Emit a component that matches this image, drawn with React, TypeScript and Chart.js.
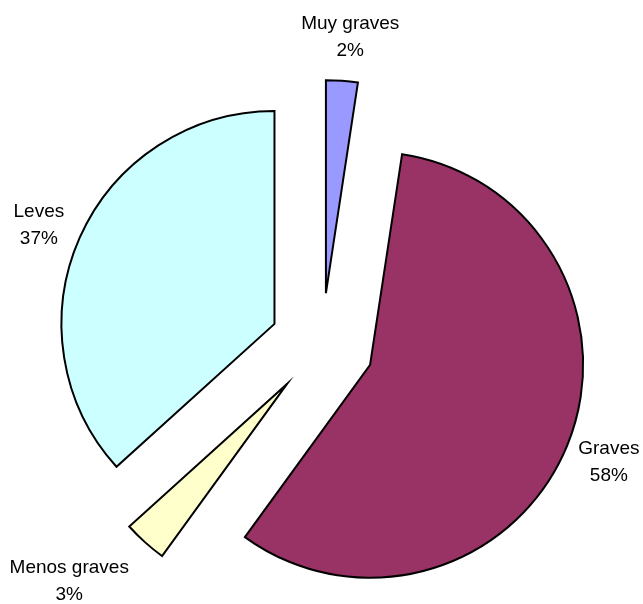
import { useEffect, useRef } from 'react';
import { Chart, registerables } from 'chart.js';

Chart.register(...registerables);

const categories = ['Muy graves', 'Graves', 'Menos graves', 'Leves'];
const values = [2.4, 57.6, 3.3, 36.7];
const sliceColors = ['#9999FF', '#993366', '#FFFFCC', '#CCFFFF'];

const EXPLODE = 52;
const FONT = '19px "Liberation Sans", Arial, sans-serif';
const LINE_H = 27;
const GAP = 12;

const explodePlugin = {
  id: 'explode',
  afterDatasetsUpdate(chart: any) {
    const meta = chart.getDatasetMeta(0);
    meta.data.forEach((arc: any) => {
      const mid = (arc.startAngle + arc.endAngle) / 2;
      arc.x += Math.cos(mid) * EXPLODE;
      arc.y += Math.sin(mid) * EXPLODE;
    });
  },
};

const labelPlugin = {
  id: 'outLabels',
  afterDatasetsDraw(chart: any) {
    const ctx = chart.ctx as CanvasRenderingContext2D;
    const meta = chart.getDatasetMeta(0);
    const total = values.reduce((a, b) => a + b, 0);
    ctx.save();
    ctx.font = FONT;
    ctx.fillStyle = '#000';
    ctx.textAlign = 'center';
    ctx.textBaseline = 'middle';
    const clamp = (v: number, m: number) => Math.max(-m, Math.min(m, v));
    meta.data.forEach((arc: any, i: number) => {
      const lines = [categories[i], Math.round((values[i] / total) * 100) + '%'];
      const w = Math.max(...lines.map((l) => ctx.measureText(l).width));
      const h = lines.length * LINE_H;
      const mid = (arc.startAngle + arc.endAngle) / 2;
      const ux = Math.cos(mid);
      const uy = Math.sin(mid);
      const r = arc.outerRadius + GAP;
      const fx = clamp(2 * ux, 1) * (1 + 0.2 * Math.max(0, -ux));
      const fy = clamp(1.25 * uy + 0.1 - 0.15 * ux, 1.25);
      const cx = arc.x + ux * r + (w / 2) * fx;
      const cy = arc.y + uy * r + (h / 2) * fy;
      lines.forEach((l, j) => ctx.fillText(l, cx, cy - h / 2 + LINE_H * (j + 0.5)));
    });
    ctx.restore();
  },
};

export default function App() {
  const ref = useRef<HTMLCanvasElement>(null);
  useEffect(() => {
    const chart = new Chart(ref.current as HTMLCanvasElement, {
      type: 'pie',
      data: {
        labels: categories,
        datasets: [
          {
            data: values,
            backgroundColor: sliceColors,
            borderColor: '#000000',
            borderWidth: 2,
            borderJoinStyle: 'miter',
            radius: 213,
          } as any,
        ],
      },
      options: {
        animation: false,
        responsive: false,
        events: [],
        layout: { padding: { left: 109, right: 108, top: 132, bottom: 46 } },
        plugins: { legend: { display: false }, tooltip: { enabled: false } },
      },
      plugins: [explodePlugin, labelPlugin],
    });
    return () => chart.destroy();
  }, []);
  return (
    <div style={{ position: 'fixed', left: 0, top: 0, width: 643, height: 604, background: '#fff' }}>
      <canvas ref={ref} width={643} height={604} />
    </div>
  );
}
